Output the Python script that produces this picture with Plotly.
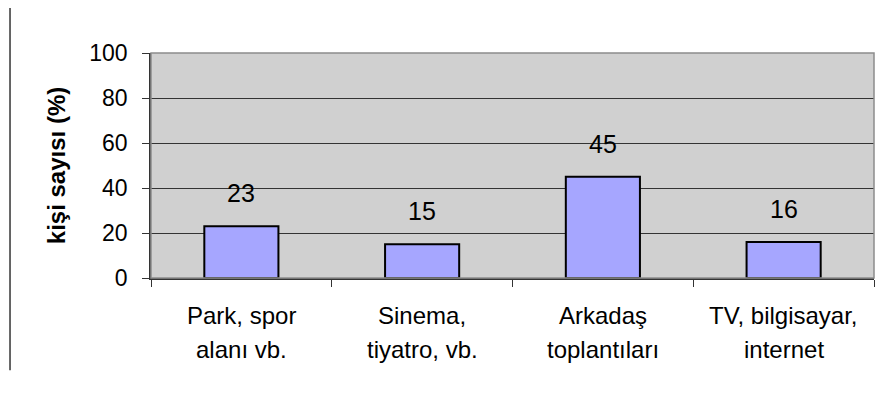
import plotly.graph_objects as go

categories = ["Park, spor<br>alanı vb.", "Sinema,<br>tiyatro, vb.", "Arkadaş<br>toplantıları", "TV, bilgisayar,<br>internet"]
values = [23, 15, 45, 16]
y_ticks = [0, 20, 40, 60, 80, 100]

FONT = "Liberation Sans, Arial, sans-serif"

fig = go.Figure(
    go.Bar(
        x=categories,
        y=values,
        width=0.41,
        marker=dict(color="#A6A6FF", line=dict(color="#000000", width=2)),
        hoverinfo="skip",
    )
)

# value labels floating above each bar
for c, v in zip(categories, values):
    fig.add_annotation(x=c, y=v, text=str(v), showarrow=False, yshift=33,
                       font=dict(family=FONT, size=25, color="#000000"))

# category labels under the axis, one annotation per line for wider line spacing
for c in categories:
    for i, line in enumerate(c.split("<br>")):
        fig.add_annotation(x=c, xref="x", y=0, yref="paper", yanchor="middle",
                           text=line, showarrow=False, yshift=-37 - 34 * i,
                           font=dict(family=FONT, size=24, color="#000000"))

# thin frame line at the left edge of the page
fig.add_shape(type="line", xref="paper", yref="paper",
              x0=-0.195, x1=-0.195, y0=1.2, y1=-0.41,
              line=dict(color="#000000", width=1.2))

fig.update_layout(
    width=885, height=398,
    margin=dict(l=151, r=11, t=53, b=120),
    paper_bgcolor="#FFFFFF",
    plot_bgcolor="#D0D0D0",
    showlegend=False,
    font=dict(family=FONT, size=23, color="#000000"),
    xaxis=dict(
        type="category",
        tickson="boundaries",
        ticks="outside", ticklen=7, tickcolor="#333333",
        showline=True, linecolor="#333333", linewidth=1.5,
        showgrid=False, mirror=False,
        showticklabels=False,
        range=[-0.5, 3.5],
    ),
    yaxis=dict(
        range=[0, 100],
        tickvals=y_ticks,
        ticks="outside", ticklen=7, tickcolor="#333333",
        showline=True, linecolor="#333333", linewidth=1.5,
        showgrid=True, gridcolor="#333333", gridwidth=1,
        tickfont=dict(size=23),
        ticklabelstandoff=10,
        title=dict(text="<b>kişi sayısı (%)</b>", font=dict(size=24), standoff=17),
        zeroline=False,
    ),
)

# light gray border on the top and right of the plot area
fig.add_shape(type="rect", xref="paper", yref="paper", x0=0, x1=1, y0=0, y1=1,
              line=dict(color="#8C8C8C", width=1.5), layer="above")

fig.write_html("out.html")
